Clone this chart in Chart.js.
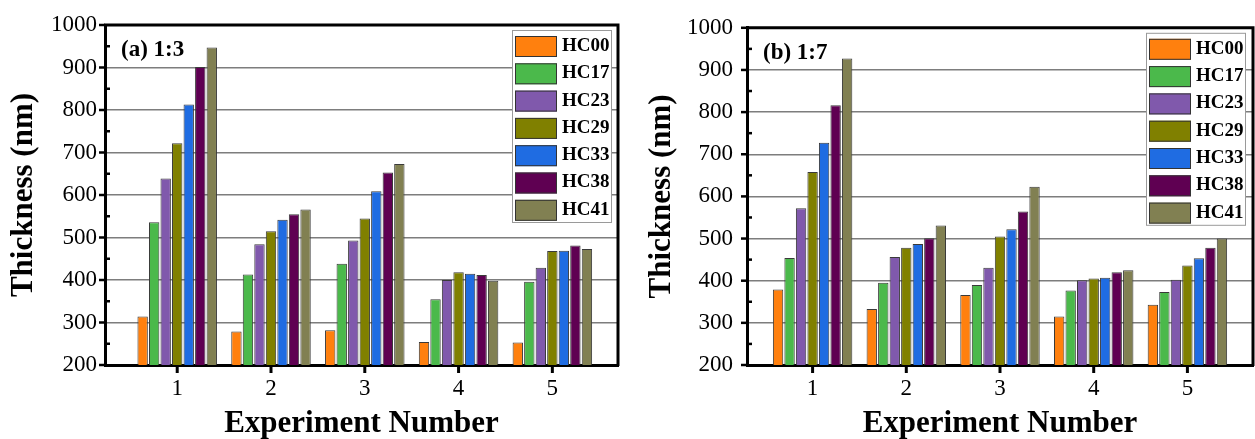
<!DOCTYPE html>
<html lang="en">
<head>
  <meta charset="UTF-8" />
  <meta name="viewport" content="width=device-width, initial-scale=1.0" />
  <title>Film Thickness by Experiment</title>
  <script src="https://cdn.jsdelivr.net/npm/chart.js"></script>
  <style>
    body { margin: 0; background: #fff; }
    .panel { position: absolute; top: 0; height: 439px; }
    #panelA { left: 0; width: 627px; }
    #panelB { left: 627px; width: 628px; }
  </style>
</head>
<body>
  <div class="panel" id="panelA"><canvas id="chartA"></canvas></div>
  <div class="panel" id="panelB"><canvas id="chartB"></canvas></div>

  <script>
    const experiments = [1, 2, 3, 4, 5];
    const samples = ['HC00', 'HC17', 'HC23', 'HC29', 'HC33', 'HC38', 'HC41'];
    const sampleColors = ['#ff800e', '#4bb94b', '#8059ac', '#808000', '#1f6ce2', '#5f0052', '#818052'];

    // thickness (nm), ratio 1:3
    const hc00A = [314, 279, 282, 254, 253];
    const hc17A = [536, 413, 438, 355, 396];
    const hc23A = [639, 484, 493, 400, 429];
    const hc29A = [722, 515, 545, 418, 468];
    const hc33A = [813, 542, 609, 415, 469];
    const hc38A = [901, 555, 653, 412, 481];
    const hc41A = [947, 566, 673, 398, 473];

    // thickness (nm), ratio 1:7
    const hc00B = [379, 333, 366, 315, 343];
    const hc17B = [454, 395, 390, 377, 373];
    const hc23B = [572, 456, 431, 401, 402];
    const hc29B = [658, 478, 505, 405, 436];
    const hc33B = [727, 487, 522, 407, 453];
    const hc38B = [816, 501, 564, 420, 478];
    const hc41B = [927, 531, 623, 425, 500];

    const yMin = 200, yMax = 1000, yStep = 100;
    const serif = '"Liberation Serif", "Times New Roman", serif';

    Chart.defaults.font.family = serif;
    Chart.defaults.color = '#000';

    // frame, tick marks, panel label and boxed legend
    const decorations = {
      id: 'decorations',
      afterDraw(chart, args, opts) {
        const { ctx, chartArea: a, scales: { x, y } } = chart;
        ctx.save();
        ctx.strokeStyle = '#000';

        ctx.lineWidth = 3;
        ctx.beginPath();
        ctx.moveTo(a.left - 1, a.top);
        ctx.lineTo(a.right, a.top);
        ctx.lineTo(a.right, a.bottom + 1);
        ctx.stroke();

        ctx.lineWidth = 2.5;
        for (let v = yMin; v <= yMax; v += yStep / 2) {
          const py = y.getPixelForValue(v);
          ctx.beginPath();
          if (v % yStep === 0) {
            ctx.moveTo(a.left - 6, py);
            ctx.lineTo(a.left, py);
          } else {
            ctx.moveTo(a.left, py);
            ctx.lineTo(a.left + 5, py);
          }
          ctx.stroke();
        }

        ctx.lineWidth = 3;
        experiments.forEach(e => {
          const px = x.getPixelForValue(e);
          ctx.beginPath();
          ctx.moveTo(px, a.bottom);
          ctx.lineTo(px, a.bottom + 8);
          ctx.stroke();
        });

        ctx.fillStyle = '#000';
        ctx.font = 'bold 23px ' + serif;
        ctx.textAlign = 'left';
        ctx.textBaseline = 'alphabetic';
        ctx.fillText(opts.label, a.left + 16, a.top + 31);

        // legend
        const bw = 99, bh = 192;
        const bx = a.right - opts.legendRight - bw;
        const by = a.top + 5;
        ctx.fillStyle = '#fff';
        ctx.fillRect(bx, by, bw, bh);
        ctx.strokeStyle = '#9a9a9a';
        ctx.lineWidth = 1;
        ctx.strokeRect(bx + 0.5, by + 0.5, bw, bh);

        ctx.font = 'bold 19px ' + serif;
        ctx.textBaseline = 'middle';
        chart.data.datasets.forEach((ds, i) => {
          const sy = by + 6 + i * 27.3;
          ctx.fillStyle = ds.backgroundColor;
          ctx.fillRect(bx + 3, sy, 42, 21);
          ctx.strokeStyle = '#333';
          ctx.strokeRect(bx + 3.5, sy + 0.5, 41, 20);
          ctx.fillStyle = '#000';
          ctx.fillText(ds.label, bx + 50, sy + 10);
        });

        ctx.restore();
      }
    };

    function makeChart(canvasId, series, cfg) {
      return new Chart(document.getElementById(canvasId), {
        type: 'bar',
        data: {
          labels: experiments,
          datasets: series.map((values, i) => ({
            label: samples[i],
            data: values,
            backgroundColor: sampleColors[i],
            borderColor: '#3a3a3a',
            borderWidth: 1,
            categoryPercentage: 0.86,
            barPercentage: 0.9
          }))
        },
        options: {
          responsive: true,
          maintainAspectRatio: false,
          animation: false,
          devicePixelRatio: 1,
          layout: { padding: { top: 25, right: cfg.padRight, left: 0, bottom: 0 } },
          plugins: {
            legend: { display: false },
            tooltip: { enabled: false },
            decorations: { label: cfg.label, legendRight: cfg.legendRight }
          },
          scales: {
            x: {
              type: 'linear',
              min: cfg.xMin,
              max: cfg.xMax,
              offset: false,
              afterBuildTicks: s => { s.ticks = experiments.map(v => ({ value: v })); },
              afterFit: s => { s.height = 74; },
              grid: { offset: false, drawOnChartArea: false, drawTicks: false },
              border: { color: '#000', width: 3 },
              ticks: { padding: 10, font: { size: 23 }, callback: v => String(v) },
              title: {
                display: true,
                text: 'Experiment Number',
                font: { size: 31, weight: 'bold', lineHeight: 1 },
                padding: 0
              }
            },
            y: {
              min: yMin,
              max: yMax,
              afterFit: s => { s.width = cfg.axisWidth; },
              grid: {
                color: c => (c.tick && (c.tick.value === yMin || c.tick.value === yMax)) ? 'rgba(0,0,0,0)' : '#7d7d7d',
                lineWidth: 1.5,
                drawTicks: false
              },
              border: { color: '#000', width: 3 },
              ticks: { stepSize: yStep, padding: cfg.tickPad, font: { size: 23 }, callback: v => String(v) },
              title: {
                display: true,
                text: 'Thickness (nm)',
                font: { size: 31, weight: 'bold', lineHeight: 1 },
                padding: { top: cfg.titlePad, bottom: 0 }
              }
            }
          }
        },
        plugins: [decorations]
      });
    }

    makeChart('chartA', [hc00A, hc17A, hc23A, hc29A, hc33A, hc38A, hc41A], {
      label: '(a) 1:3', xMin: 0.23, xMax: 5.70, axisWidth: 105, tickPad: 8,
      titlePad: 8, padRight: 9, legendRight: 7
    });

    makeChart('chartB', [hc00B, hc17B, hc23B, hc29B, hc33B, hc38B, hc41B], {
      label: '(b) 1:7', xMin: 0.30, xMax: 5.70, axisWidth: 120, tickPad: 14,
      titlePad: 19, padRight: 2, legendRight: 8
    });
  </script>
</body>
</html>
